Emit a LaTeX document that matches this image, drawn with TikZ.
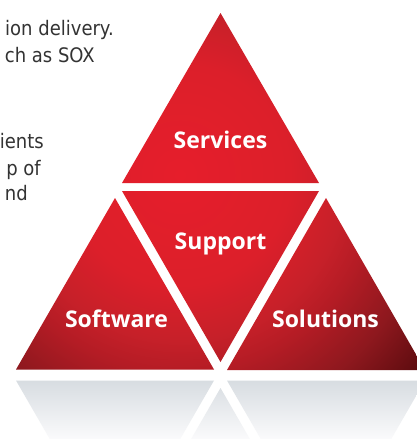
\documentclass[tikz,border=0pt]{standalone}
\usepackage{fontspec}
\setmainfont{Open Sans}
\newfontfamily\bodyfont[FakeStretch=0.9]{DejaVu Sans}
\definecolor{rg0}{HTML}{E61E2B}
\definecolor{rg1}{HTML}{DC1F2A}
\definecolor{rg2}{HTML}{C62029}
\definecolor{rg3}{HTML}{B51C25}
\definecolor{rg4}{HTML}{8E181E}
\definecolor{rg5}{HTML}{5A0B0E}
\definecolor{refl0}{HTML}{D7DCE1}
\definecolor{refl1}{HTML}{FBFBFC}
\definecolor{bodygray}{HTML}{333333}
\pgfdeclareradialshading{redglow}{\pgfpointorigin}{color(0bp)=(rg0); color(110bp)=(rg1); color(165bp)=(rg2); color(195bp)=(rg3); color(250bp)=(rg4); color(310bp)=(rg5); color(330bp)=(rg5)}
\tikzset{
  bodytext/.style={inner sep=0pt, text=bodygray, font=\bodyfont\fontsize{20}{24}\selectfont, anchor=base east},
  tlabel/.style={inner sep=0pt, text=white, font=\fontsize{23}{27}\selectfont\bfseries, anchor=base}
}
\begin{document}
\begin{tikzpicture}[x=1pt,y=-1pt]
\clip (0,0) rectangle (417,439);
\fill[white] (0,0) rectangle (417,439);
% red pyramid
\begin{scope}
\clip (220.5,13) -- (122,183) -- (319,183) -- cycle
      (122,191) -- (319,191) -- (220.5,362) -- cycle
      (115,198) -- (16,369.5) -- (214,369.5) -- cycle
      (326,198) -- (227,370) -- (425,370) -- cycle;
\node[inner sep=0pt] (glow) at (180,175) {\pgfuseshading{redglow}};
\end{scope}
% reflection
\begin{scope}
\clip (16,380.5) -- (214,380.5) -- (115,552) -- cycle
      (220.5,388) -- (122,559) -- (319,559) -- cycle
      (227,380.5) -- (425,380.5) -- (326,552) -- cycle;
\shade[top color=refl0, bottom color=refl1] (0,380) rectangle (417,440);
\end{scope}
% labels
\node[tlabel] (services) at (220.5,148) {Services};
\node[tlabel] (support) at (220.5,249) {Support};
\node[tlabel] (software) at (116.5,327) {Software};
\node[tlabel] (solutions) at (325.5,327) {Solutions};
% body text
\node[bodytext] (l1) at (114,35) {ion delivery.};
\node[bodytext] (l2) at (95,62) {ch as SOX};
\node[bodytext] (l3) at (44,148) {ients};
\node[bodytext] (l4) at (41,175) {p of};
\node[bodytext] (l5) at (28,200) {nd};
\end{tikzpicture}
\end{document}
